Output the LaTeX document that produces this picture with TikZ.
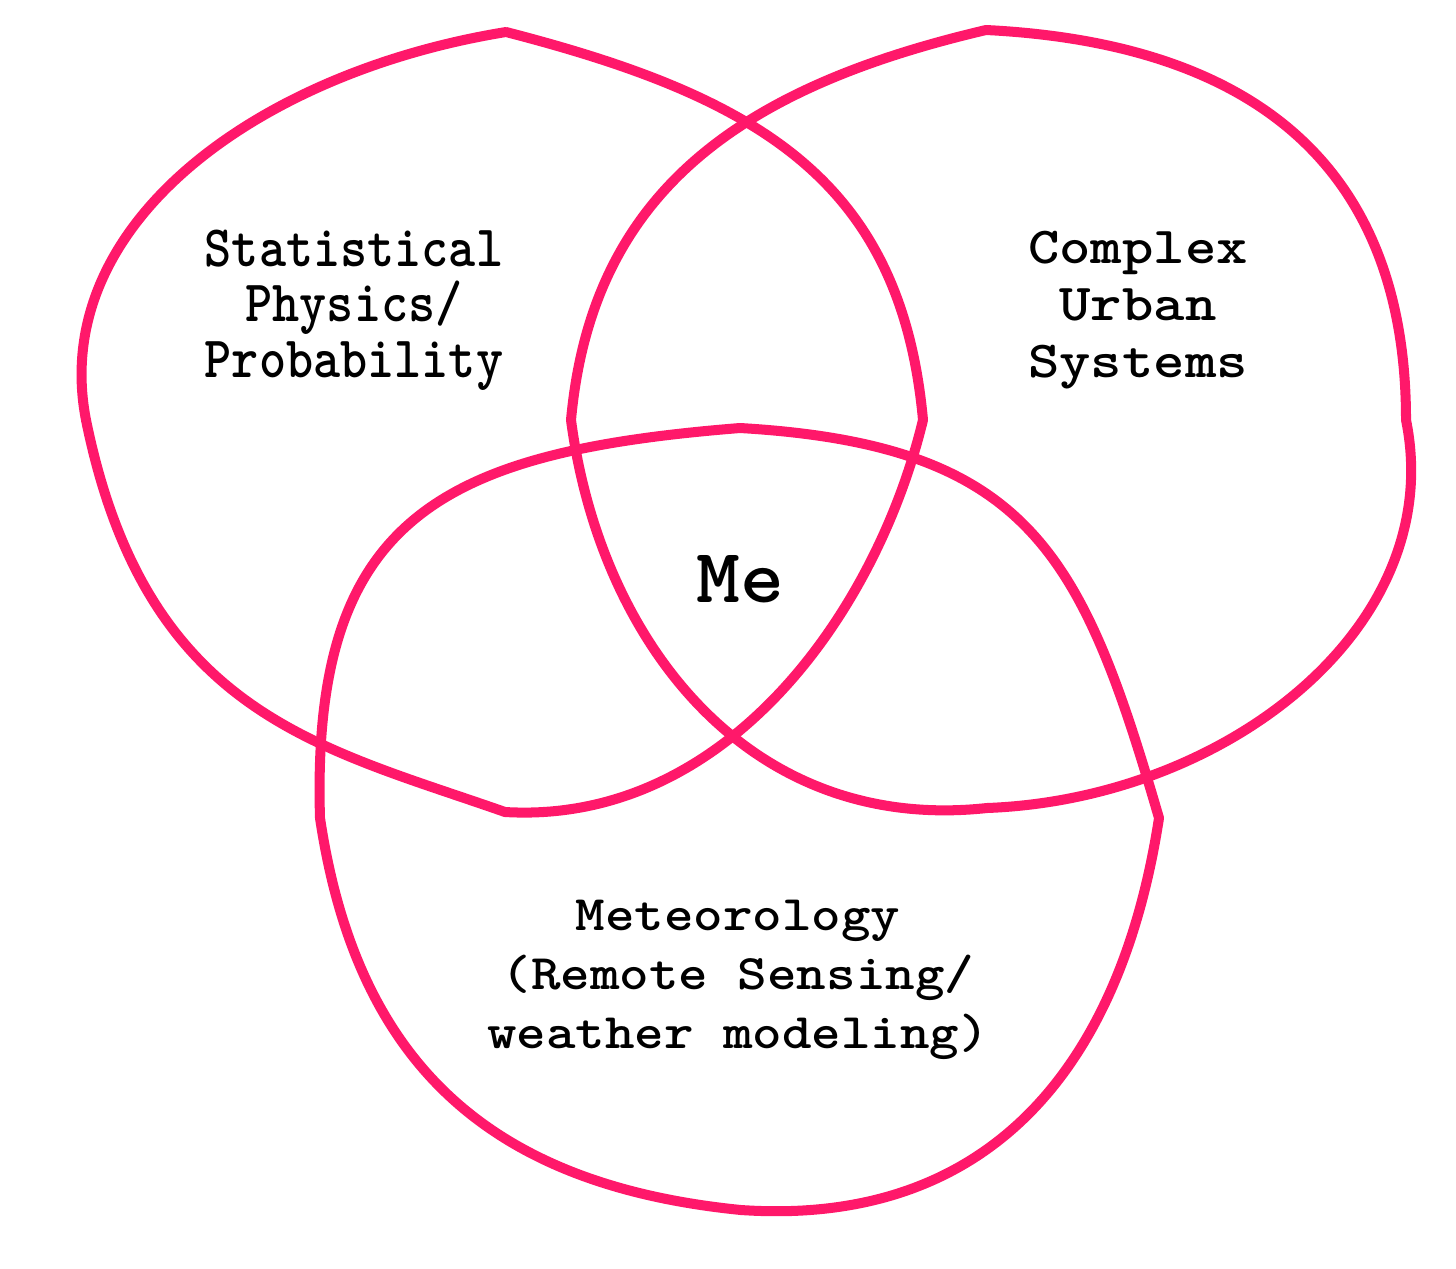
\documentclass[tikz,border=0pt]{standalone}
\usepackage{tikz}
\definecolor{vpink}{RGB}{255,24,106}

\begin{document}
\begin{tikzpicture}[x=0.02cm, y=-0.02cm,
  blob/.style={draw=vpink, line width=5.7pt, line join=round, line cap=round},
  lbl/.style={font=\fontsize{29.4}{27.7}\selectfont\ttfamily\bfseries, align=center, anchor=base, inner sep=0pt, transform shape}]
\useasboundingbox (0,0) rectangle (1456,1268);

% left circle
\draw[blob] (506,32) .. controls (758,97) and (901,180) .. (923,420)
  .. controls (876,614) and (725,825) .. (505,812)
  .. controls (317,746) and (146,714) .. (86,420)
  .. controls (48,224) and (259,72) .. (506,32);

% right circle
\draw[blob] (986,30) .. controls (1246,43) and (1406,160) .. (1406,420)
  .. controls (1448,626) and (1227,799) .. (987,808)
  .. controls (747,834) and (600,640) .. (571,420)
  .. controls (592,190) and (743,87) .. (986,30);

% bottom circle
\draw[blob] (740,428) .. controls (1030,445) and (1082,554) .. (1159,818)
  .. controls (1121,1065) and (991,1227) .. (741,1210)
  .. controls (491,1185) and (357,1065) .. (320,818)
  .. controls (311,518) and (440,452) .. (740,428);

\node[lbl, yscale=1.135] (stat) at (354,377) {Statistical\\Physics/\\Probability};
\node[lbl, font=\fontsize{34}{37.1}\selectfont\ttfamily\bfseries, yscale=0.87] (urban) at (1138,377) {Complex\\Urban\\Systems};
\node[lbl, font=\fontsize{32}{37.8}\selectfont\ttfamily\bfseries, yscale=0.885] (met) at (738,1048) {Meteorology\\(Remote Sensing/\\weather modeling)};
\node[lbl, font=\fontsize{47.6}{50}\selectfont\ttfamily\bfseries, yscale=0.92] (me) at (740,602) {Me};
\end{tikzpicture}
\end{document}
